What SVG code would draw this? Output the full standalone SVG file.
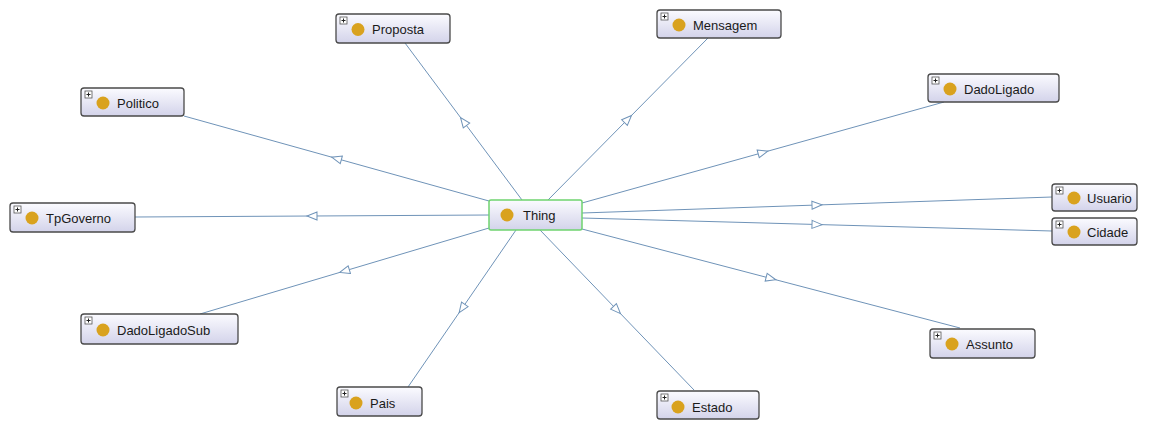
<svg xmlns="http://www.w3.org/2000/svg" width="1155" height="421" viewBox="0 0 1155 421">
  <defs>
    <linearGradient id="boxFill" x1="0" y1="0" x2="0" y2="1">
      <stop offset="0" stop-color="#fbfbff"/>
      <stop offset="1" stop-color="#d3d3ea"/>
    </linearGradient>
    <marker id="tri" markerUnits="userSpaceOnUse" markerWidth="14" markerHeight="12" refX="6" refY="5" orient="auto">
      <path d="M1,1 L11,5 L1,9 z" fill="#ffffff" stroke="#6f93b8" stroke-width="1"/>
    </marker>
  </defs>
  <style>
    .box { fill: url(#boxFill); stroke: #4a4a4a; stroke-width: 1.3; }
    .root { fill: url(#boxFill); stroke: #6fd36f; stroke-width: 1.5; }
    .plus { fill: #ffffff; stroke: #555555; stroke-width: 0.8; }
    .plusline { stroke: #222222; stroke-width: 1; }
    .dot { fill: #d9a21e; }
    .label { font-family: "Liberation Sans", Arial, sans-serif; font-size: 13px; fill: #1a1a1a; }
    .edge { fill: none; stroke: #6f93b8; stroke-width: 1; marker-mid: url(#tri); }
  </style>
  <rect x="0" y="0" width="1155" height="421" fill="#ffffff"/>

  <g id="connectors">
    <polyline class="edge" points="522,200 463.5,121.5 405,43"/>
    <polyline class="edge" points="548,200 628,119 708,38"/>
    <polyline class="edge" points="582,203 763,152.5 944,102"/>
    <polyline class="edge" points="489,201 336.5,158.5 184,116"/>
    <polyline class="edge" points="489,215 312,216 135,217"/>
    <polyline class="edge" points="582,213 817,205 1052,197"/>
    <polyline class="edge" points="582,218 817,224.5 1052,231"/>
    <polyline class="edge" points="489,228 344.5,271 200,314"/>
    <polyline class="edge" points="516,230 462,308.5 408,387"/>
    <polyline class="edge" points="540,230 617,310 694,390"/>
    <polyline class="edge" points="582,229 771,278.5 960,328"/>
  </g>

  <g id="node-thing">
    <rect class="root" x="489" y="200" width="93" height="30" rx="2"/>
    <circle class="dot" cx="507" cy="215" r="6.5"/>
    <text class="label" x="523" y="219.5">Thing</text>
  </g>

  <g id="node-proposta">
    <rect class="box" x="336" y="14" width="114" height="29" rx="3"/>
    <rect class="plus" x="340" y="17" width="7" height="7"/>
    <path class="plusline" d="M341.5,20.5 h4 M343.5,18.5 v4"/>
    <circle class="dot" cx="358" cy="29.5" r="6.5"/>
    <text class="label" x="372" y="34">Proposta</text>
  </g>

  <g id="node-mensagem">
    <rect class="box" x="657" y="10" width="124" height="28" rx="3"/>
    <rect class="plus" x="661" y="13" width="7" height="7"/>
    <path class="plusline" d="M662.5,16.5 h4 M664.5,14.5 v4"/>
    <circle class="dot" cx="679" cy="25" r="6.5"/>
    <text class="label" x="693" y="29.5">Mensagem</text>
  </g>

  <g id="node-dadoligado">
    <rect class="box" x="928" y="74" width="131" height="28" rx="3"/>
    <rect class="plus" x="932" y="77" width="7" height="7"/>
    <path class="plusline" d="M933.5,80.5 h4 M935.5,78.5 v4"/>
    <circle class="dot" cx="950" cy="89" r="6.5"/>
    <text class="label" x="964" y="93.5">DadoLigado</text>
  </g>

  <g id="node-politico">
    <rect class="box" x="81" y="88" width="103" height="28" rx="3"/>
    <rect class="plus" x="85" y="91" width="7" height="7"/>
    <path class="plusline" d="M86.5,94.5 h4 M88.5,92.5 v4"/>
    <circle class="dot" cx="103" cy="103" r="6.5"/>
    <text class="label" x="117" y="107.5">Politico</text>
  </g>

  <g id="node-tpgoverno">
    <rect class="box" x="10" y="203" width="125" height="29" rx="3"/>
    <rect class="plus" x="14" y="206" width="7" height="7"/>
    <path class="plusline" d="M15.5,209.5 h4 M17.5,207.5 v4"/>
    <circle class="dot" cx="32" cy="218" r="6.5"/>
    <text class="label" x="46" y="222.5">TpGoverno</text>
  </g>

  <g id="node-usuario">
    <rect class="box" x="1052" y="184" width="85" height="27" rx="3"/>
    <rect class="plus" x="1056" y="187" width="7" height="7"/>
    <path class="plusline" d="M1057.5,190.5 h4 M1059.5,188.5 v4"/>
    <circle class="dot" cx="1074" cy="198" r="6.5"/>
    <text class="label" x="1087" y="202.5">Usuario</text>
  </g>

  <g id="node-cidade">
    <rect class="box" x="1052" y="218" width="85" height="27" rx="3"/>
    <rect class="plus" x="1056" y="221" width="7" height="7"/>
    <path class="plusline" d="M1057.5,224.5 h4 M1059.5,222.5 v4"/>
    <circle class="dot" cx="1074" cy="232" r="6.5"/>
    <text class="label" x="1087" y="236.5">Cidade</text>
  </g>

  <g id="node-dadoligadosub">
    <rect class="box" x="81" y="314" width="157" height="30" rx="3"/>
    <rect class="plus" x="85" y="317" width="7" height="7"/>
    <path class="plusline" d="M86.5,320.5 h4 M88.5,318.5 v4"/>
    <circle class="dot" cx="103" cy="330" r="6.5"/>
    <text class="label" x="117" y="334.5">DadoLigadoSub</text>
  </g>

  <g id="node-assunto">
    <rect class="box" x="930" y="329" width="105" height="29" rx="3"/>
    <rect class="plus" x="934" y="332" width="7" height="7"/>
    <path class="plusline" d="M935.5,335.5 h4 M937.5,333.5 v4"/>
    <circle class="dot" cx="952" cy="344" r="6.5"/>
    <text class="label" x="966" y="348.5">Assunto</text>
  </g>

  <g id="node-pais">
    <rect class="box" x="337" y="387" width="85" height="29" rx="3"/>
    <rect class="plus" x="341" y="390" width="7" height="7"/>
    <path class="plusline" d="M342.5,393.5 h4 M344.5,391.5 v4"/>
    <circle class="dot" cx="356" cy="403" r="6.5"/>
    <text class="label" x="370" y="407.5">Pais</text>
  </g>

  <g id="node-estado">
    <rect class="box" x="657" y="391" width="102" height="28" rx="3"/>
    <rect class="plus" x="661" y="394" width="7" height="7"/>
    <path class="plusline" d="M662.5,397.5 h4 M664.5,395.5 v4"/>
    <circle class="dot" cx="678" cy="407" r="6.5"/>
    <text class="label" x="692" y="411.5">Estado</text>
  </g>
</svg>
